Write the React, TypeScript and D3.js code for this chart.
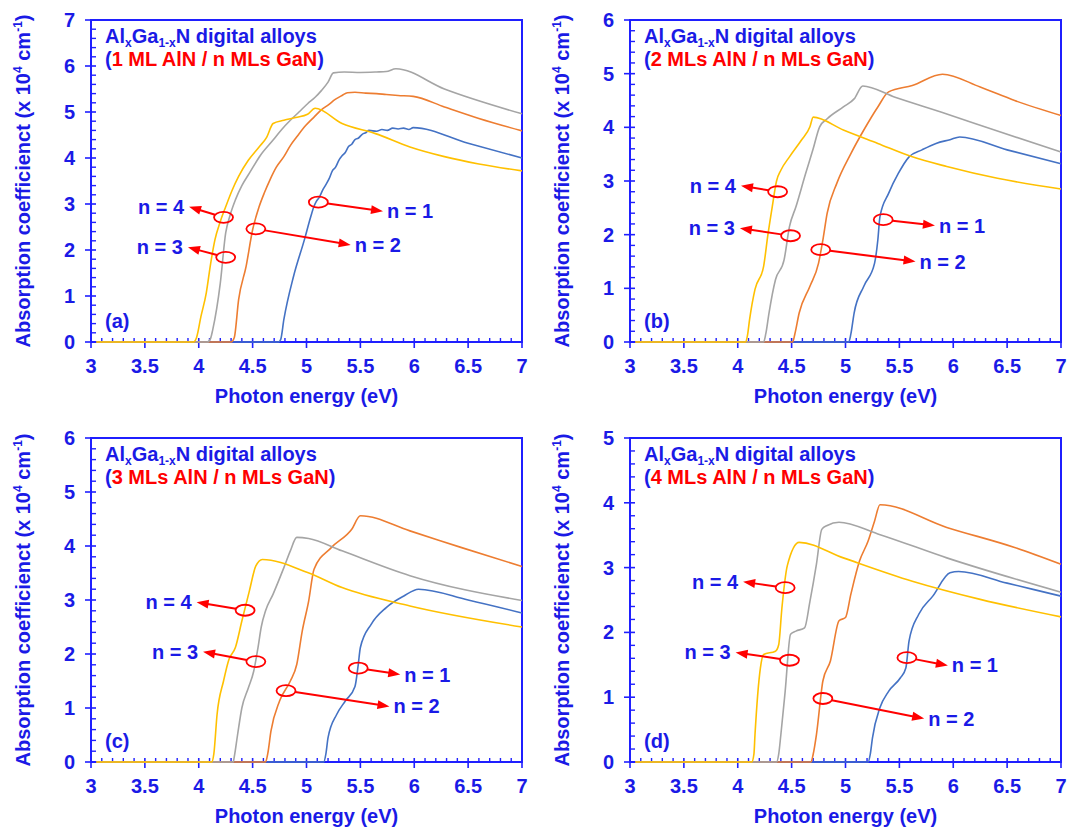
import React from "react";
import * as d3 from "d3";

type Pt = [number, number];

// ---------------- DATA ----------------
const seriesLabels = ["n = 1", "n = 2", "n = 3", "n = 4"];
const seriesColors = ["#4472C4", "#ED7D31", "#A5A5A5", "#FFC000"];
const xTicks = [3, 3.5, 4, 4.5, 5, 5.5, 6, 6.5, 7];
const panelLetters = ["(a)", "(b)", "(c)", "(d)"];
const panelSubtitles = [
  "1 ML AlN / n MLs GaN",
  "2 MLs AlN / n MLs GaN",
  "3 MLs AlN / n MLs GaN",
  "4 MLs AlN / n MLs GaN",
];
const panelYMax = [7, 6, 6, 5];

// Panel (a): 1 ML AlN / n MLs GaN
const a_n1: Pt[] = [[3.05,0],[4.74,0],[4.76,0.05],[4.79,0.49],[4.88,1.43],[4.98,2.22],[5.04,2.73],[5.07,2.95],[5.09,3.05],[5.12,3.15],[5.15,3.3],[5.18,3.42],[5.21,3.55],[5.24,3.72],[5.27,3.8],[5.3,3.95],[5.33,4.05],[5.36,4.12],[5.39,4.25],[5.42,4.3],[5.45,4.4],[5.48,4.43],[5.52,4.52],[5.55,4.55],[5.58,4.6],[5.65,4.58],[5.7,4.62],[5.75,4.6],[5.8,4.65],[5.85,4.63],[5.9,4.65],[5.95,4.62],[5.99,4.66],[6.5,4.32],[7,4.0]];
const a_n2: Pt[] = [[3.05,0],[4.3,0],[4.33,0.1],[4.37,0.92],[4.44,1.65],[4.5,2.44],[4.56,2.94],[4.61,3.25],[4.66,3.52],[4.72,3.8],[4.79,4.03],[4.85,4.27],[4.91,4.46],[4.99,4.7],[5.07,4.89],[5.14,5.05],[5.2,5.15],[5.27,5.28],[5.33,5.36],[5.38,5.42],[5.45,5.43],[5.55,5.41],[5.65,5.4],[5.74,5.38],[5.85,5.36],[5.99,5.34],[6.28,5.11],[6.6,4.86],[7,4.59]];
const a_n3: Pt[] = [[3.05,0],[4.08,0],[4.11,0.08],[4.13,0.27],[4.2,1.28],[4.25,2.37],[4.29,2.75],[4.34,3.09],[4.4,3.4],[4.47,3.67],[4.57,4.05],[4.69,4.39],[4.77,4.62],[4.85,4.82],[4.93,5.0],[5.01,5.18],[5.08,5.32],[5.14,5.47],[5.2,5.65],[5.25,5.85],[5.35,5.87],[5.5,5.86],[5.65,5.87],[5.74,5.88],[5.83,5.94],[6.28,5.5],[7,4.96]];
const a_n4: Pt[] = [[3.05,0],[3.95,0],[3.98,0.1],[4.02,0.55],[4.07,1.07],[4.11,1.7],[4.15,2.22],[4.2,2.62],[4.25,2.94],[4.31,3.3],[4.37,3.6],[4.46,3.95],[4.56,4.24],[4.63,4.45],[4.69,4.75],[4.79,4.82],[4.9,4.88],[5.01,4.95],[5.08,5.08],[5.33,4.75],[5.64,4.53],[5.96,4.24],[6.28,4.03],[6.6,3.87],[7,3.72]];

// Panel (b): 2 MLs AlN / n MLs GaN
const b_n1: Pt[] = [[3.05,0],[5.03,0],[5.05,0.15],[5.08,0.54],[5.17,1.04],[5.27,1.47],[5.3,1.9],[5.32,2.34],[5.4,2.77],[5.49,3.14],[5.59,3.45],[5.71,3.58],[5.84,3.7],[5.97,3.77],[6.06,3.82],[6.5,3.58],[7,3.32]];
const b_n2: Pt[] = [[3.05,0],[4.51,0],[4.53,0.15],[4.57,0.54],[4.67,1.04],[4.75,1.47],[4.79,1.9],[4.83,2.4],[4.92,2.96],[5.05,3.51],[5.17,3.95],[5.3,4.38],[5.4,4.66],[5.62,4.78],[5.9,4.99],[6.25,4.75],[6.57,4.5],[7,4.22]];
const b_n3: Pt[] = [[3.05,0],[4.24,0],[4.26,0.15],[4.29,0.54],[4.35,1.16],[4.43,1.53],[4.48,2.15],[4.54,2.52],[4.63,3.14],[4.7,3.6],[4.76,4.01],[4.83,4.16],[4.98,4.38],[5.08,4.53],[5.16,4.77],[5.46,4.56],[5.94,4.25],[6.41,3.93],[7,3.54]];
const b_n4: Pt[] = [[3.05,0],[4.07,0],[4.09,0.12],[4.11,0.42],[4.16,0.98],[4.24,1.41],[4.28,2.0],[4.32,2.52],[4.36,3.0],[4.4,3.2],[4.48,3.45],[4.59,3.76],[4.67,4.01],[4.7,4.19],[4.98,3.95],[5.3,3.7],[5.62,3.45],[5.94,3.27],[6.41,3.05],[7,2.85]];

// Panel (c): 3 MLs AlN / n MLs GaN
const c_n1: Pt[] = [[3.05,0],[5.16,0],[5.18,0.15],[5.2,0.45],[5.28,0.88],[5.36,1.13],[5.45,1.4],[5.48,1.8],[5.5,2.12],[5.6,2.55],[5.74,2.86],[5.9,3.07],[6.04,3.2],[6.5,3.0],[7,2.76]];
const c_n2: Pt[] = [[3.05,0],[4.62,0],[4.64,0.15],[4.67,0.57],[4.75,1.13],[4.85,1.5],[4.91,1.81],[4.96,2.42],[5.02,2.98],[5.07,3.57],[5.23,3.97],[5.42,4.31],[5.5,4.56],[5.96,4.28],[6.44,3.97],[7,3.62]];
const c_n3: Pt[] = [[3.05,0],[4.32,0],[4.33,0.1],[4.36,0.5],[4.4,1.0],[4.46,1.37],[4.51,1.68],[4.55,2.12],[4.58,2.5],[4.62,2.8],[4.69,3.11],[4.79,3.6],[4.85,3.91],[4.91,4.16],[5.02,4.14],[5.33,3.91],[5.96,3.45],[7,2.99]];
const c_n4: Pt[] = [[3.05,0],[4.12,0],[4.14,0.15],[4.17,0.88],[4.23,1.5],[4.28,1.9],[4.34,2.12],[4.4,2.61],[4.47,3.17],[4.53,3.63],[4.59,3.75],[5.01,3.51],[5.33,3.23],[5.96,2.89],[7,2.5]];

// Panel (d): 4 MLs AlN / n MLs GaN
const d_n1: Pt[] = [[3.05,0],[5.21,0],[5.23,0.12],[5.25,0.37],[5.32,0.84],[5.4,1.09],[5.51,1.3],[5.56,1.45],[5.59,1.87],[5.68,2.28],[5.81,2.56],[5.97,2.92],[6.05,2.94],[6.5,2.76],[7,2.56]];
const d_n2: Pt[] = [[3.05,0],[4.68,0],[4.7,0.12],[4.73,0.42],[4.79,1.25],[4.86,1.56],[4.94,2.18],[5.0,2.23],[5.05,2.59],[5.13,3.1],[5.21,3.41],[5.27,3.72],[5.32,3.97],[5.94,3.62],[6.57,3.31],[7,3.05]];
const d_n3: Pt[] = [[3.05,0],[4.36,0],[4.38,0.12],[4.4,0.42],[4.44,1.09],[4.49,1.97],[4.54,2.02],[4.62,2.07],[4.67,2.48],[4.73,3.05],[4.78,3.59],[4.83,3.65],[4.94,3.7],[5.3,3.52],[5.94,3.15],[7,2.62]];
const d_n4: Pt[] = [[3.05,0],[4.13,0],[4.15,0.12],[4.16,0.42],[4.21,1.45],[4.24,1.66],[4.35,1.71],[4.38,1.81],[4.41,2.38],[4.46,3.03],[4.57,3.39],[4.98,3.15],[5.62,2.79],[6.25,2.51],[7,2.24]];

// Annotations per series n1..n4: [ellipseX, ellipseY, arrowTipX, arrowTipY] in data units
const a_notes = [[5.11,3.04,5.71,2.84],[4.53,2.46,5.41,2.11],[4.25,1.84,3.90,2.06],[4.23,2.71,3.91,2.94]];
const b_notes = [[5.35,2.28,5.83,2.17],[4.77,1.72,5.65,1.50],[4.49,1.98,4.02,2.12],[4.37,2.80,4.03,2.91]];
const c_notes = [[5.48,1.74,5.87,1.62],[4.81,1.32,5.77,1.03],[4.53,1.86,4.04,2.04],[4.43,2.81,3.98,2.96]];
const d_notes = [[5.57,1.61,5.95,1.49],[4.79,0.98,5.73,0.67],[4.48,1.57,3.98,1.69],[4.44,2.69,4.05,2.78]];

const panelSeries = [
  [a_n1, a_n2, a_n3, a_n4],
  [b_n1, b_n2, b_n3, b_n4],
  [c_n1, c_n2, c_n3, c_n4],
  [d_n1, d_n2, d_n3, d_n4],
];
const panelNotes = [a_notes, b_notes, c_notes, d_notes];

// ---------------- LAYOUT / STYLE ----------------
const W = 1072;
const H = 828;
const boxes = [
  { l: 91, r: 522, t: 20, b: 342 },
  { l: 630, r: 1061, t: 20, b: 342 },
  { l: 91, r: 522, t: 438, b: 762 },
  { l: 630, r: 1061, t: 438, b: 762 },
];
const FONT = "'Liberation Sans', Arial, Helvetica, sans-serif";
const AXIS = "#1f1fff";
const TEXT = "#1a1ae6";
const RED = "#ff0000";

function Panel({ idx }: { idx: number }) {
  const box = boxes[idx];
  const yMax = panelYMax[idx];
  const x = d3.scaleLinear().domain([3, 7]).range([box.l, box.r]);
  const y = d3.scaleLinear().domain([0, yMax]).range([box.b, box.t]);
  const line = d3
    .line<Pt>()
    .x((d) => x(d[0]))
    .y((d) => y(d[1]))
    .curve(d3.curveMonotoneX);

  const xMinor = d3.range(30, 71).map((v) => v / 10).filter((v) => Math.abs(v * 2 - Math.round(v * 2)) > 1e-6);
  const yMajor = d3.range(0, yMax + 1);
  const yMinor = d3.range(0, yMax * 5 + 1).map((v) => v / 5).filter((v) => Math.abs(v - Math.round(v)) > 1e-6);

  const cx = (box.l + box.r) / 2;
  const cy = (box.t + box.b) / 2;

  return (
    <g fontFamily={FONT} fontWeight="bold">
      {/* frame */}
      <rect x={box.l} y={box.t} width={box.r - box.l} height={box.b - box.t} fill="none" stroke={AXIS} strokeWidth={2} />
      {/* x ticks */}
      {xTicks.map((v) => (
        <line key={"xM" + v} x1={x(v)} x2={x(v)} y1={box.b - 4} y2={box.b + 6} stroke={AXIS} strokeWidth={1.6} />
      ))}
      {xMinor.map((v) => (
        <line key={"xm" + v} x1={x(v)} x2={x(v)} y1={box.b - 4} y2={box.b} stroke={AXIS} strokeWidth={1.4} />
      ))}
      {xTicks.map((v) => (
        <text key={"xl" + v} x={x(v)} y={box.b + 31} textAnchor="middle" fontSize={20} fill={TEXT}>
          {String(v)}
        </text>
      ))}
      {/* y ticks */}
      {yMajor.map((v) => (
        <line key={"yM" + v} x1={box.l - 6} x2={box.l + 5} y1={y(v)} y2={y(v)} stroke={AXIS} strokeWidth={1.6} />
      ))}
      {yMinor.map((v) => (
        <line key={"ym" + v} x1={box.l} x2={box.l + 5} y1={y(v)} y2={y(v)} stroke={AXIS} strokeWidth={1.4} />
      ))}
      {yMajor.map((v) => (
        <text key={"yl" + v} x={box.l - 16} y={y(v) + 7} textAnchor="end" fontSize={20} fill={TEXT}>
          {String(v)}
        </text>
      ))}
      {/* axis titles */}
      <text x={cx} y={box.b + 61} textAnchor="middle" fontSize={20} fill={TEXT}>
        Photon energy (eV)
      </text>
      <text transform={`translate(${box.l - 61},${cy}) rotate(-90)`} textAnchor="middle" fontSize={20} fill={TEXT}>
        Absorption coefficienct (x 10
        <tspan fontSize={12} dy={-8}>4</tspan>
        <tspan dy={8}> cm</tspan>
        <tspan fontSize={12} dy={-8}>-1</tspan>
        <tspan dy={8}>)</tspan>
      </text>
      {/* curves */}
      {panelSeries[idx].map((s, i) => (
        <path key={"s" + i} d={line(s) || ""} fill="none" stroke={seriesColors[i]} strokeWidth={1.6} />
      ))}
      {/* title */}
      <text x={box.l + 14} y={box.t + 23} fontSize={20} fill={TEXT}>
        Al<tspan fontSize={12} dy={4}>x</tspan>
        <tspan dy={-4}>Ga</tspan>
        <tspan fontSize={12} dy={4}>1-x</tspan>
        <tspan dy={-4}>N digital alloys</tspan>
      </text>
      <text x={box.l + 14} y={box.t + 46} fontSize={20} fill={TEXT}>
        (<tspan fill={RED}>{panelSubtitles[idx]}</tspan>)
      </text>
      <text x={box.l + 14} y={box.b - 14} fontSize={20} fill={TEXT}>
        {panelLetters[idx]}
      </text>
      {/* annotations */}
      {panelNotes[idx].map((n, i) => {
        const ex = x(n[0]);
        const ey = y(n[1]);
        const tx = x(n[2]);
        const ty = y(n[3]);
        const rx = 9.5;
        const ry = 5.5;
        const dx = tx - ex;
        const dy = ty - ey;
        const len = Math.hypot(dx, dy);
        const ux = dx / len;
        const uy = dy / len;
        const s = 1 / Math.sqrt((ux / rx) ** 2 + (uy / ry) ** 2);
        const sx = ex + ux * s;
        const sy = ey + uy * s;
        const hl = 12;
        const hw = 4.5;
        const bx = tx - ux * hl;
        const by = ty - uy * hl;
        const px = -uy;
        const py = ux;
        const right = dx > 0;
        return (
          <g key={"n" + i}>
            <ellipse cx={ex} cy={ey} rx={rx} ry={ry} fill="none" stroke={RED} strokeWidth={1.8} />
            <line x1={sx} y1={sy} x2={bx + ux} y2={by + uy} stroke={RED} strokeWidth={2} />
            <polygon
              points={`${tx},${ty} ${bx + px * hw},${by + py * hw} ${bx - px * hw},${by - py * hw}`}
              fill={RED}
            />
            <text
              x={right ? tx + 4 : tx - 5}
              y={ty + 7}
              textAnchor={right ? "start" : "end"}
              fontSize={20}
              fill={TEXT}
            >
              {seriesLabels[i]}
            </text>
          </g>
        );
      })}
    </g>
  );
}

export default function App() {
  return (
    <svg
      width={W}
      height={H}
      viewBox={`0 0 ${W} ${H}`}
      style={{ position: "absolute", left: 0, top: 0, background: "#ffffff" }}
    >
      <rect x={0} y={0} width={W} height={H} fill="#ffffff" />
      {[0, 1, 2, 3].map((i) => (
        <Panel key={i} idx={i} />
      ))}
    </svg>
  );
}
